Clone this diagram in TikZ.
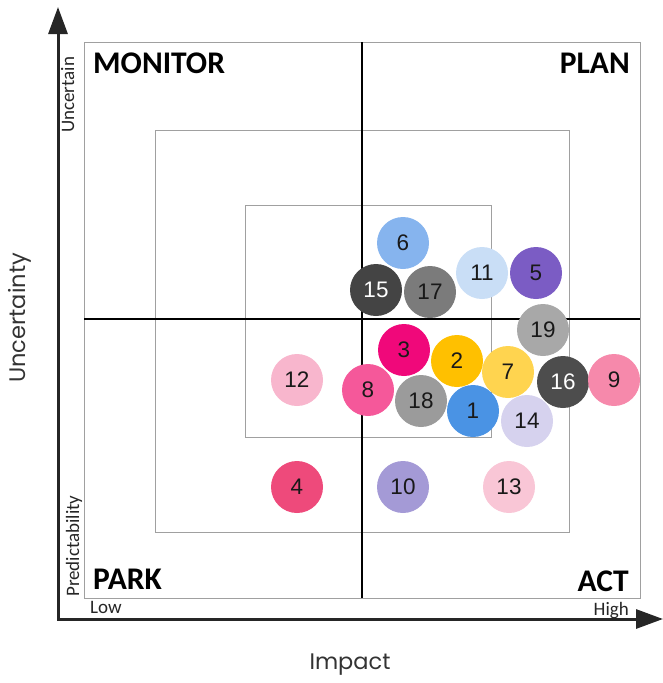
\documentclass[tikz,border=0pt]{standalone}
\usepackage{fontspec}
\setmainfont{Carlito}
\newfontfamily\numfont{Liberation Sans}
\newfontfamily\geofont{Poppins}
\usetikzlibrary{arrows.meta}
\definecolor{cA}{HTML}{4A93E4}
\definecolor{cB}{HTML}{FFC000}
\definecolor{cC}{HTML}{F0087A}
\definecolor{cD}{HTML}{EE4A7B}
\definecolor{cE}{HTML}{7B5CC4}
\definecolor{cF}{HTML}{86B4EE}
\definecolor{cG}{HTML}{FFD44F}
\definecolor{cH}{HTML}{F5589A}
\definecolor{cI}{HTML}{F689AB}
\definecolor{cJ}{HTML}{A49AD6}
\definecolor{cK}{HTML}{C9DEF6}
\definecolor{cL}{HTML}{F8B6CD}
\definecolor{cM}{HTML}{F9C6D6}
\definecolor{cN}{HTML}{D6D2EE}
\definecolor{cO}{HTML}{444444}
\definecolor{cP}{HTML}{4D4D4D}
\definecolor{cQ}{HTML}{7B7B7B}
\definecolor{cR}{HTML}{9B9B9B}
\definecolor{cS}{HTML}{A8A8A8}
\definecolor{frameg}{HTML}{A0A0A0}
\definecolor{labg}{HTML}{333333}
\begin{document}
\begin{tikzpicture}[x=1pt,y=-1pt,
  bubble/.style={circle, minimum size=52pt, inner sep=0pt, text=black!90,
    font=\numfont\fontsize{22.5}{22.5}\selectfont},
  wbubble/.style={bubble, text=white},
  quad/.style={inner sep=0pt, font=\bfseries\fontsize{31.5}{31.5}\selectfont},
  small/.style={inner sep=0pt, font=\fontsize{19}{19}\selectfont, text=black!85},
  axlab/.style={inner sep=0pt, text=labg, font=\geofont\fontsize{22.5}{22.5}\selectfont},
  frame/.style={draw=frameg, line width=1pt},
  cross/.style={draw=black, line width=1.3pt},
  axis/.style={draw=black!85, line width=3pt,
    {Triangle[length=27pt,width=19pt]}-{Triangle[length=27pt,width=19pt]}}
]
\useasboundingbox (0,0) rectangle (663,683);
% frames
\draw[frame] (84,42) rectangle (640,598);
\draw[frame] (155,130) rectangle (569,532);
\draw[frame] (245,205) rectangle (491,437);
% cross lines
\coordinate (vt) at (362,42);
\coordinate (vb) at (362,598);
\coordinate (hl) at (84,319);
\coordinate (hr) at (640,319);
\draw[cross] (vt) -- (vb);
\draw[cross] (hl) -- (hr);
% axes
\coordinate (ytip) at (58,7);
\coordinate (orig) at (58,619);
\coordinate (xtip) at (663,619);
\draw[axis] (ytip) -- (orig) -- (xtip);
% quadrant labels
\node[quad, anchor=base west] (monitor) at (93,73) {MONITOR};
\node[quad, anchor=base east] (plan) at (630,73) {PLAN};
\node[quad, anchor=base west] (park) at (93,589) {PARK};
\node[quad, anchor=base east] (act) at (629,591) {ACT};
% small axis labels
\node[small, anchor=base west] (low) at (90,613) {Low};
\node[small, anchor=base east] (high) at (629,615) {High};
\node[small, rotate=90, anchor=base west] (unc) at (74,133) {Uncertain};
\node[small, rotate=90, anchor=base west] (pred) at (79,597) {Predictability};
\node[axlab, rotate=90] (uncy) at (20,318) {Uncertainty};
\node[axlab] (imp) at (350,665) {Impact};
% bubbles
\node[bubble, fill=cF] (b6) at (403,243) {6};
\node[wbubble, fill=cO] (b15) at (376,290) {15};
\node[bubble, fill=cQ] (b17) at (430,292) {17};
\node[bubble, fill=cK] (b11) at (482,273) {11};
\node[bubble, fill=cE] (b5) at (536,273) {5};
\node[bubble, fill=cS] (b19) at (543,330) {19};
\node[bubble, fill=cC] (b3) at (404,350) {3};
\node[bubble, fill=cB] (b2) at (457,361) {2};
\node[bubble, fill=cG] (b7) at (508,372) {7};
\node[wbubble, fill=cP] (b16) at (563,382) {16};
\node[bubble, fill=cI] (b9) at (614,380) {9};
\node[bubble, fill=cL] (b12) at (297,380) {12};
\node[bubble, fill=cH] (b8) at (368,390) {8};
\node[bubble, fill=cR] (b18) at (421,401) {18};
\node[bubble, fill=cA] (b1) at (473,411) {1};
\node[bubble, fill=cN] (b14) at (527,421) {14};
\node[bubble, fill=cD] (b4) at (297,487) {4};
\node[bubble, fill=cJ] (b10) at (403,487) {10};
\node[bubble, fill=cM] (b13) at (509,487) {13};
\end{tikzpicture}
\end{document}
